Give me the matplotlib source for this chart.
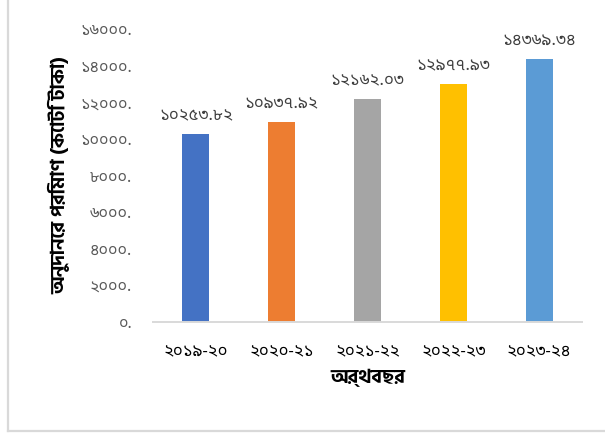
import unicodedata
import matplotlib
matplotlib.use("Agg")
import matplotlib.pyplot as plt
from matplotlib.lines import Line2D

# Data
years = ["২০১৯-২০", "২০২০-২১", "২০২১-২২", "২০২২-২৩", "২০২৩-২৪"]
grants = [10253.82, 10937.92, 12162.03, 12977.93, 14369.34]
bar_colors = ["#4472C4", "#ED7D31", "#A5A5A5", "#FFC000", "#5B9BD5"]
yticks = [0, 2000, 4000, 6000, 8000, 10000, 12000, 14000, 16000]
ylabel = "অনুদানের পরিমাণ (কোটি টাকা)"
xlabel = "অর্থবছর"

BN_DIGITS = str.maketrans("0123456789", "০১২৩৪৫৬৭৮৯")


def bn(s):
    return s.translate(BN_DIGITS)


def nfd(s):
    # split two-part vowel signs so each part has its own glyph
    return unicodedata.normalize("NFD", s)


REGULAR = ["Noto Sans Bengali", "DejaVu Sans"]
BOLD = ["Hind Siliguri", "Noto Sans Bengali", "DejaVu Sans"]
plt.rcParams["font.family"] = REGULAR

W, H = 605, 434
fig = plt.figure(figsize=(W / 100, H / 100), dpi=100)

# chart-area frame (left and bottom edges)
frame_kw = dict(transform=fig.transFigure, color="#D9D9D9", linewidth=1.6)
fig.lines.append(Line2D([7.5 / W, 7.5 / W], [1.0, 1 - 431 / H], **frame_kw))
fig.lines.append(Line2D([7.5 / W, 1.0], [1 - 431 / H, 1 - 431 / H], **frame_kw))

ax = fig.add_axes([153 / W, 1 - 322 / H, 429 / W, 293 / H])
x = range(len(years))
ax.bar(x, grants, width=0.315, color=bar_colors)

for xi, v in zip(x, grants):
    ax.annotate(bn(f"{v:.2f}"), (xi, v), xytext=(0, 7), textcoords="offset points",
                ha="center", va="bottom", fontsize=12, color="#404040")

ax.set_ylim(0, 16000)
ax.set_xlim(-0.5, len(years) - 0.5)
ax.set_yticks(yticks)
ax.set_yticklabels([bn(f"{t}.") for t in yticks], fontsize=11.5, color="#595959")
ax.set_xticks(list(x))
ax.set_xticklabels(years, fontsize=12, color="#000000")
ax.tick_params(axis="both", length=0)
ax.tick_params(axis="x", pad=16)
ax.tick_params(axis="y", pad=15)

for side in ["top", "right", "left"]:
    ax.spines[side].set_visible(False)
ax.spines["bottom"].set_color("#D9D9D9")
ax.spines["bottom"].set_linewidth(1.4)

ax.set_ylabel(nfd(ylabel), fontsize=14, fontweight="bold", family=BOLD, labelpad=7)
ax.set_xlabel(nfd(xlabel), fontsize=14, fontweight="bold", family=BOLD, labelpad=6)

fig.savefig("out.png", dpi=100)
